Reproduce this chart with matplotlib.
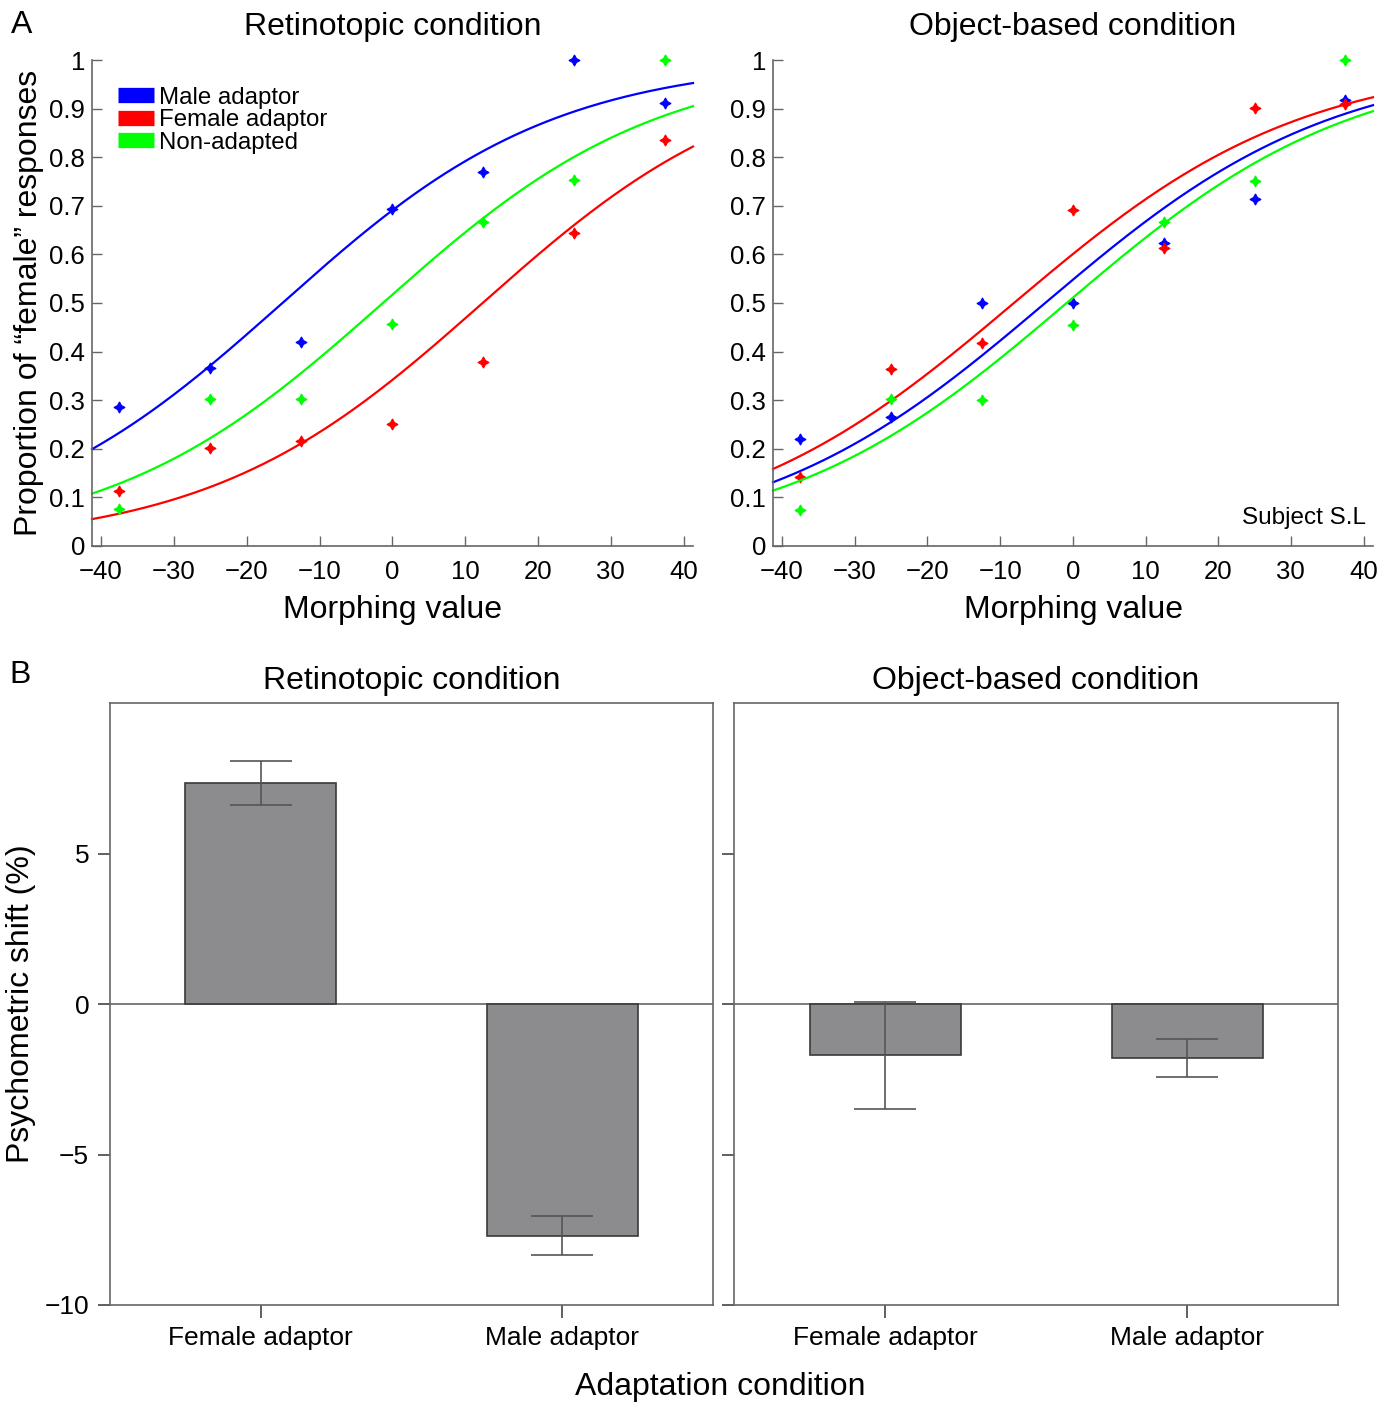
import numpy as np
import matplotlib
matplotlib.use('Agg')
import matplotlib.pyplot as plt
from matplotlib.lines import Line2D

plt.rcParams['font.family'] = ['Liberation Sans', 'DejaVu Sans']

# ---- panel A data ----
morph = [-37.5, -25, -12.5, 0, 12.5, 25, 37.5]

ret_male = [0.287, 0.366, 0.419, 0.693, 0.770, 1.0, 0.911]
ret_female = [0.113, 0.202, 0.217, 0.251, 0.378, 0.644, 0.835]
ret_none = [0.077, 0.302, 0.302, 0.456, 0.667, 0.753, 1.0]

obj_male = [0.221, 0.266, 0.499, 0.499, 0.623, 0.715, 0.918]
obj_female = [0.143, 0.364, 0.417, 0.691, 0.613, 0.901, 0.909]
obj_none = [0.075, 0.302, 0.300, 0.455, 0.667, 0.751, 1.0]

# fitted logistic parameters (threshold, spread)
ret_fit_male = (-15.1, 18.8)
ret_fit_female = (12.4, 18.9)
ret_fit_none = (-1.3, 18.9)
obj_fit_male = (-3.8, 19.8)
obj_fit_female = (-8.1, 19.85)
obj_fit_none = (-0.85, 19.7)

# ---- panel B data ----
adapt_labels = ['Female adaptor', 'Male adaptor']
ret_shift = [7.34, -7.70]
ret_err = [0.72, 0.65]
obj_shift = [-1.71, -1.79]
obj_err = [1.78, 0.63]

blue = '#0000ff'
red = '#ff0000'
green = '#00ff00'
spine_c = '#666666'

W, H = 1392, 1403
fig = plt.figure(figsize=(W / 100, H / 100), dpi=100)


def fpos(l, t, r, b):
    return [l / W, 1 - b / H, (r - l) / W, (b - t) / H]


def logistic(x, p):
    return 1.0 / (1.0 + np.exp(-(x - p[0]) / p[1]))


def style_top(ax):
    ax.set_xlim(-41.25, 41.3)
    ax.set_ylim(0, 1)
    ax.set_xticks(range(-40, 41, 10))
    ax.set_yticks(np.arange(0, 1.01, 0.1))
    ax.set_yticklabels(['0'] + ['%.1f' % v for v in np.arange(0.1, 0.95, 0.1)] + ['1'])
    for s in ['top', 'right']:
        ax.spines[s].set_visible(False)
    for s in ['left', 'bottom']:
        ax.spines[s].set_color(spine_c)
        ax.spines[s].set_linewidth(1.2)
    ax.tick_params(direction='in', length=7, width=1, color=spine_c, labelsize=18.5)
    ax.tick_params(axis='x', pad=10)
    ax.tick_params(axis='y', pad=5)
    ax.set_xlabel('Morphing value', fontsize=23, labelpad=8)


xs = np.linspace(-41.25, 41.3, 300)

axA1 = fig.add_axes(fpos(92, 60, 693, 546))
axA2 = fig.add_axes(fpos(773, 60, 1373, 546))

panels = [
    (axA1, [ret_male, ret_female, ret_none], [ret_fit_male, ret_fit_female, ret_fit_none],
     'Retinotopic condition'),
    (axA2, [obj_male, obj_female, obj_none], [obj_fit_male, obj_fit_female, obj_fit_none],
     'Object-based condition'),
]
for ax, pts, fits, title in panels:
    for y, p, c in zip(pts, fits, [blue, red, green]):
        ax.plot(xs, logistic(xs, p), color=c, lw=1.6, clip_on=False)
        ax.plot(morph, y, linestyle='none', marker=(4, 1, 0), ms=8, mew=0.8,
                color=c, clip_on=False)
    style_top(ax)
    ax.set_title(title, fontsize=23, pad=18)

axA1.set_ylabel('Proportion of \u201cfemale\u201d responses', fontsize=23, labelpad=4)
handles = [Line2D([], [], color=c, lw=11, solid_capstyle='butt') for c in [blue, red, green]]
axA1.legend(handles, ['Male adaptor', 'Female adaptor', 'Non-adapted'],
            loc='upper left', bbox_to_anchor=(0.027, 0.965), frameon=False,
            fontsize=17.3, handlelength=1.5, handletextpad=0.2, labelspacing=0.02,
            borderaxespad=0)
axA2.text(0.988, 0.035, 'Subject S.L', transform=axA2.transAxes, ha='right',
          va='bottom', fontsize=17.5)

# ---- panel B ----
axB1 = fig.add_axes(fpos(110, 703, 713, 1305))
axB2 = fig.add_axes(fpos(734, 703, 1338, 1305))
pos = [1, 2]
for ax, vals, errs, title in [(axB1, ret_shift, ret_err, 'Retinotopic condition'),
                              (axB2, obj_shift, obj_err, 'Object-based condition')]:
    ax.bar(pos, vals, width=0.5, color='#8c8c8e', edgecolor='#3a3a3a', linewidth=1.2, zorder=2)
    ax.errorbar(pos, vals, yerr=errs, fmt='none', ecolor='#555555', elinewidth=1.2,
                capsize=22, capthick=1.2, zorder=3)
    ax.axhline(0, color='#666666', lw=1.2, zorder=1)
    ax.set_xlim(0.5, 2.5)
    ax.set_ylim(-10, 10)
    ax.set_xticks(pos)
    ax.set_xticklabels(adapt_labels)
    ax.set_yticks([-10, -5, 0, 5])
    for s in ax.spines.values():
        s.set_color(spine_c)
        s.set_linewidth(1.2)
    ax.tick_params(direction='out', length=9, width=1.2, color='#444444',
                   labelsize=19, pad=6)
    ax.set_title(title, fontsize=23, pad=10)

axB1.set_yticklabels(['\u221210', '\u22125', '0', '5'])
axB2.set_yticklabels([])
axB1.set_ylabel('Psychometric shift (%)', fontsize=23, labelpad=6)
fig.text(720 / W, 1 - 1387 / H, 'Adaptation condition', ha='center', va='center', fontsize=23)

fig.text(22 / W, 1 - 25 / H, 'A', ha='center', va='center', fontsize=23)
fig.text(20 / W, 1 - 675 / H, 'B', ha='center', va='center', fontsize=23)

fig.savefig('out.png', dpi=100)
